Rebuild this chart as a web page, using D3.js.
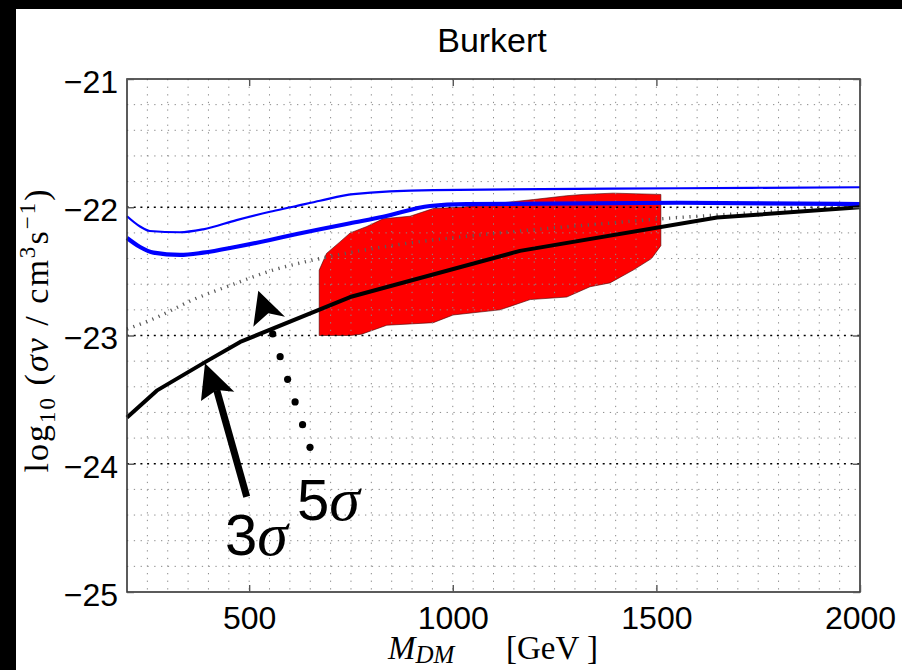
<!DOCTYPE html>
<html><head><meta charset="utf-8">
<script src="https://cdn.jsdelivr.net/npm/d3@7"></script>
<style>body{margin:0;background:#fff}svg{display:block}</style>
</head><body>
<svg id="c" width="902" height="670"></svg>
<script>
// ---- data ----
const xTicks = [500, 1000, 1500, 2000];
const yTicks = [-21, -22, -23, -24, -25];

const mass3s = [200, 273, 396, 478, 748, 1165, 1649, 2000];
const sig3s  = [-23.64, -23.43, -23.20, -23.05, -22.70, -22.34, -22.08, -22.00];

const mass5s = [200, 265, 363, 453, 559, 674, 870, 1116, 1362, 1511, 1700, 2000];
const sig5s  = [-22.95, -22.87, -22.72, -22.61, -22.49, -22.40, -22.29, -22.20, -22.13, -22.09, -22.05, -21.98];

const massThin = [200, 232, 256, 330, 387, 469, 551, 608, 674, 756, 952, 1558, 2000];
const limThin  = [-22.07, -22.15, -22.185, -22.195, -22.172, -22.10, -22.035, -21.996, -21.949, -21.897, -21.866, -21.852, -21.844];

const massThick = [200, 232, 265, 330, 387, 469, 551, 617, 674, 748, 829, 944, 1034, 1558, 2000];
const limThick  = [-22.24, -22.31, -22.354, -22.372, -22.354, -22.308, -22.255, -22.209, -22.172, -22.125, -22.074, -21.99, -21.975, -21.965, -21.975];

const regionMass = [672, 748, 776, 838, 952, 1001, 1116, 1190, 1280, 1337, 1386, 1443, 1488, 1511,
                    1511, 1394, 1320, 1280, 1198, 1018, 952, 895, 829, 789, 748, 723, 690, 672];
const regionLog  = [-23.00, -23.00, -22.99, -22.92, -22.90, -22.84, -22.80, -22.72, -22.70, -22.62, -22.59, -22.49, -22.40, -22.30,
                    -21.90, -21.89, -21.90, -21.91, -21.94, -22.00, -22.01, -22.07, -22.09, -22.15, -22.20, -22.27, -22.36, -22.49];

// annotations (data units)
const arrow3Mass = [391.5, 381.7, 420.3, 463.5];   // tip, left wing, notch, right wing
const arrow3Log  = [-23.217, -23.511, -23.425, -23.438];
const arrow3Tail = [494, -24.257];
const arrow5Mass = [522.4, 510.2, 547, 588];
const arrow5Log  = [-22.651, -22.931, -22.827, -22.853];
const dotsMass = [557.8, 576.1, 594.4, 612.8, 631.1, 649.4];
const dotsLog  = [-22.988, -23.165, -23.342, -23.518, -23.695, -23.872];
const label3 = [440.7, -24.712];
const label5 = [617.5, -24.439];

// ---- drawing ----
const svg = d3.select("#c");
const L = 127, R = 860, T = 79, B = 592;
const x = d3.scaleLinear().domain([200, 2000]).range([L, R]);
const y = d3.scaleLinear().domain([-25, -21]).range([B, T]);

svg.append("rect").attr("width", 902).attr("height", 670).attr("fill", "#fff");
svg.append("rect").attr("x", 0).attr("y", 0).attr("width", 16).attr("height", 670).attr("fill", "#000");
svg.append("rect").attr("x", 0).attr("y", 0).attr("width", 902).attr("height", 9).attr("fill", "#000");

// red region
svg.append("path")
  .attr("d", d3.line().x((d, i) => x(regionMass[i])).y((d, i) => y(regionLog[i]))(regionMass) + "Z")
  .attr("fill", "#ff0000").attr("stroke", "#400").attr("stroke-width", 0.6);

// grid
const g = svg.append("g");
const minorX = d3.range(250, 2000, 50);
const minorY = d3.range(-24.8, -21.0, 0.2).filter(v => Math.abs(v - Math.round(v)) > 0.05);
g.selectAll(".mx").data(minorX).join("line")
  .attr("x1", d => x(d)).attr("x2", d => x(d)).attr("y1", T).attr("y2", B)
  .attr("stroke", "#8a8a8a").attr("stroke-width", 1).attr("stroke-dasharray", "1.3,6.3");
g.selectAll(".my").data(minorY).join("line")
  .attr("x1", L).attr("x2", R).attr("y1", d => y(d)).attr("y2", d => y(d))
  .attr("stroke", "#8a8a8a").attr("stroke-width", 1).attr("stroke-dasharray", "1.3,5.5");
g.selectAll(".My").data([-22, -23, -24]).join("line")
  .attr("x1", L).attr("x2", R).attr("y1", d => y(d)).attr("y2", d => y(d))
  .attr("stroke", "#000").attr("stroke-width", 1.6).attr("stroke-dasharray", "2,4.7");

// lines
function curve(xs, ys, cv) {
  return d3.line().x((d, i) => x(xs[i])).y((d, i) => y(ys[i])).curve(cv || d3.curveLinear)(xs);
}
svg.append("path").attr("d", curve(mass5s, sig5s, d3.curveMonotoneX))
  .attr("fill", "none").attr("stroke", "#5a5a5a").attr("stroke-width", 3.4).attr("stroke-dasharray", "1.2,5.6");
svg.append("path").attr("d", curve(massThin, limThin, d3.curveMonotoneX))
  .attr("fill", "none").attr("stroke", "#0000ff").attr("stroke-width", 2.2);
svg.append("path").attr("d", curve(massThick, limThick, d3.curveMonotoneX))
  .attr("fill", "none").attr("stroke", "#0000ff").attr("stroke-width", 4.2);
svg.append("path").attr("d", curve(mass3s, sig3s))
  .attr("fill", "none").attr("stroke", "#000").attr("stroke-width", 4).attr("stroke-linejoin", "round");

// frame
svg.append("rect").attr("x", L).attr("y", T).attr("width", R - L).attr("height", B - T)
  .attr("fill", "none").attr("stroke", "#333").attr("stroke-width", 1.6);

// axes
const fontSans = "'Liberation Sans', Arial, Helvetica, sans-serif";
const fontSerif = "'Liberation Serif', 'Times New Roman', serif";
const ax = svg.append("g").attr("transform", `translate(0,${B})`)
  .call(d3.axisBottom(x).tickValues(xTicks).tickSizeInner(-7).tickSizeOuter(0).tickPadding(14).tickFormat(d3.format("d")));
const ay = svg.append("g").attr("transform", `translate(${L},0)`)
  .call(d3.axisLeft(y).tickValues(yTicks).tickSizeInner(-7).tickSizeOuter(0).tickPadding(9).tickFormat(d3.format("d")));
svg.append("g").attr("transform", `translate(0,${T})`)
  .call(d3.axisTop(x).tickValues(xTicks).tickSizeInner(-7).tickSizeOuter(0).tickFormat(""));
svg.append("g").attr("transform", `translate(${R},0)`)
  .call(d3.axisRight(y).tickValues(yTicks).tickSizeInner(-7).tickSizeOuter(0).tickFormat(""));
svg.selectAll(".domain").remove();
svg.selectAll(".tick line").attr("stroke", "#555").attr("stroke-width", 1.4);
ax.selectAll("text").attr("font-family", fontSans).attr("font-size", 32).attr("fill", "#000");
ay.selectAll("text").attr("font-family", fontSans).attr("font-size", 32).attr("fill", "#000").attr("dy", "0.42em");

// title
svg.append("text").attr("x", 492).attr("y", 52).attr("text-anchor", "middle")
  .attr("font-family", fontSans).attr("font-size", 34).text("Burkert");

// x label
const xl = svg.append("text").attr("x", 388).attr("y", 659).attr("font-family", fontSerif).attr("font-size", 33);
xl.append("tspan").attr("font-style", "italic").text("M");
xl.append("tspan").attr("font-style", "italic").attr("font-size", 25).attr("dy", 4).text("DM");
xl.append("tspan").attr("x", 506).attr("dy", -4).text("[GeV ]");

// y label
const yl = svg.append("text").attr("transform", "translate(48,331) rotate(-90)")
  .attr("text-anchor", "middle").attr("font-family", fontSerif).attr("font-size", 34)
  .attr("textLength", 283).attr("lengthAdjust", "spacing");
yl.append("tspan").text("log");
yl.append("tspan").attr("font-size", 23).attr("dy", 7).text("10");
yl.append("tspan").attr("dy", -7).text(" (");
yl.append("tspan").attr("font-style", "italic").text("σv");
yl.append("tspan").text(" / cm");
yl.append("tspan").attr("font-size", 23).attr("dy", -13).text("3");
yl.append("tspan").attr("dy", 13).text("s");
yl.append("tspan").attr("font-size", 23).attr("dy", -13).text("−1");
yl.append("tspan").attr("dy", 13).text(")");

// annotations: 3 sigma arrow
svg.append("line").attr("x1", x(arrow3Tail[0])).attr("y1", y(arrow3Tail[1]))
  .attr("x2", x(arrow3Mass[2])).attr("y2", y(arrow3Log[2]))
  .attr("stroke", "#000").attr("stroke-width", 7);
svg.append("path")
  .attr("d", d3.line().x((d, i) => x(arrow3Mass[i])).y((d, i) => y(arrow3Log[i]))(arrow3Mass) + "Z")
  .attr("fill", "#000");
// 5 sigma dotted arrow
svg.selectAll(".dot").data(dotsMass).join("circle")
  .attr("cx", (d, i) => x(dotsMass[i])).attr("cy", (d, i) => y(dotsLog[i])).attr("r", 3.6).attr("fill", "#000");
svg.append("path")
  .attr("d", d3.line().x((d, i) => x(arrow5Mass[i])).y((d, i) => y(arrow5Log[i]))(arrow5Mass) + "Z")
  .attr("fill", "#000");

function sigLabel(pos, digit) {
  const t = svg.append("text").attr("x", x(pos[0])).attr("y", y(pos[1])).attr("font-size", 58);
  t.append("tspan").attr("font-family", fontSans).text(digit);
  t.append("tspan").attr("font-family", fontSerif).attr("font-style", "italic").attr("font-size", 62).text("σ");
}
sigLabel(label3, "3");
sigLabel(label5, "5");
</script>
</body></html>
